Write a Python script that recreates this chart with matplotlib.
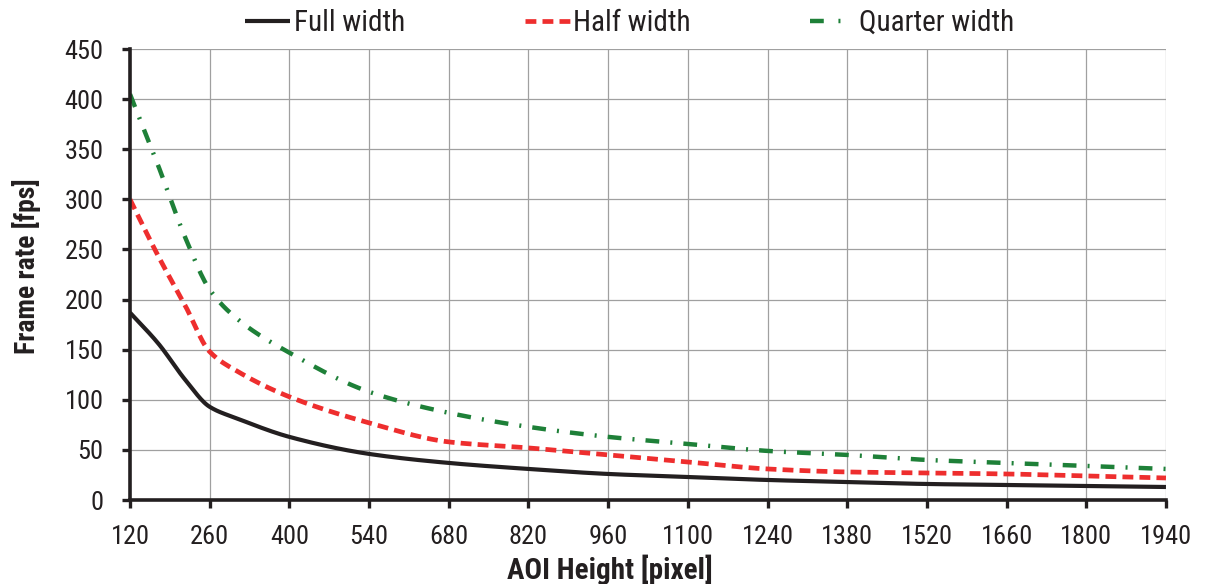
import numpy as np
import matplotlib
matplotlib.use("Agg")
import matplotlib.pyplot as plt
from matplotlib import font_manager

# AOI heights (pixel) and frame rates (fps) for the three AOI widths
aoi_height = [120, 170, 217, 260, 310, 400, 540, 680, 820, 960, 1100, 1240, 1380, 1520, 1660, 1800, 1940]
fps_full = [187, 156, 120, 93, 81, 63, 46, 37, 31, 26, 23, 20, 18, 16, 15, 14, 13]
fps_half = [300, 243, 194, 148, 128, 103, 77, 58, 52, 45, 38, 31, 28, 27, 26, 24, 22]
fps_quarter = [405, 333, 262, 210, 180, 147, 108, 87, 73, 63, 56, 49, 45, 40, 37, 34, 31]

x_ticks = [120, 260, 400, 540, 680, 820, 960, 1100, 1240, 1380, 1520, 1660, 1800, 1940]
y_ticks = [0, 50, 100, 150, 200, 250, 300, 350, 400, 450]

installed = {f.name for f in font_manager.fontManager.ttflist}
candidates = ["Roboto Condensed", "Open Sans Condensed", "Liberation Sans Narrow", "Lato"]
family = next((c for c in candidates if c in installed), "DejaVu Sans")
plt.rcParams["font.family"] = [family, "DejaVu Sans"]

INK = "#231f20"


def smooth(x, y, n=600):
    # monotone cubic interpolation to draw a smoothed line
    x = np.asarray(x, float)
    y = np.asarray(y, float)
    h = np.diff(x)
    d = np.diff(y) / h
    m = np.zeros_like(y)
    for i in range(1, len(x) - 1):
        if d[i - 1] * d[i] > 0:
            w1 = 2 * h[i] + h[i - 1]
            w2 = h[i] + 2 * h[i - 1]
            m[i] = (w1 + w2) / (w1 / d[i - 1] + w2 / d[i])
    m[0] = d[0]
    m[-1] = d[-1]
    xs = np.linspace(x[0], x[-1], n)
    idx = np.clip(np.searchsorted(x, xs) - 1, 0, len(x) - 2)
    t = (xs - x[idx]) / h[idx]
    h00 = 2 * t**3 - 3 * t**2 + 1
    h10 = t**3 - 2 * t**2 + t
    h01 = -2 * t**3 + 3 * t**2
    h11 = t**3 - t**2
    ys = h00 * y[idx] + h10 * h[idx] * m[idx] + h01 * y[idx + 1] + h11 * h[idx] * m[idx + 1]
    return xs, ys


fig = plt.figure(figsize=(12.07, 5.84), dpi=100)
ax = fig.add_axes([0.1077, 0.1438, 0.8583, 0.7722])

xs, ys = smooth(aoi_height, fps_full)
ax.plot(xs, ys, color=INK, lw=3, label="Full width", solid_capstyle="butt")
xs, ys = smooth(aoi_height, fps_half)
ax.plot(xs, ys, color="#ee2e2e", lw=3.4, label="Half width", dashes=(2.3, 1.3))
xs, ys = smooth(aoi_height, fps_quarter)
ax.plot(xs, ys, color="#1e8038", lw=3.2, label="Quarter width", dashes=(3.1, 2.5, 0.45, 2.5))

ax.set_xlim(120, 1940)
ax.set_ylim(0, 450)
ax.set_xticks(x_ticks)
ax.set_yticks(y_ticks)
ax.grid(True, color="#a0a0a0", lw=0.9)
ax.set_axisbelow(True)
for s in ("top", "right"):
    ax.spines[s].set_visible(False)
for s in ("left", "bottom"):
    ax.spines[s].set_linewidth(2.6)
    ax.spines[s].set_color(INK)
ax.tick_params(axis="both", direction="out", length=6, width=2.4, color=INK,
               labelsize=19, labelcolor=INK)
ax.tick_params(axis="x", pad=12)
ax.tick_params(axis="y", pad=13)

ax.set_xlabel("AOI Height [pixel]", fontsize=21, fontweight="bold", color=INK)
ax.xaxis.set_label_coords(609.5 / 1207, 1 - 555 / 584, transform=fig.transFigure)
ax.set_ylabel("Frame rate [fps]", fontsize=20, fontweight="bold", color=INK)
ax.yaxis.set_label_coords(41 / 1207, 1 - 266 / 584, transform=fig.transFigure)

leg = fig.legend(*ax.get_legend_handles_labels(), loc="center left",
                 bbox_to_anchor=(245 / 1207, 1 - 23 / 584), bbox_transform=fig.transFigure,
                 ncol=3, frameon=False, fontsize=21, handlelength=1.55, handletextpad=0.12,
                 columnspacing=4.1, borderpad=0, borderaxespad=0)
for t in leg.get_texts():
    t.set_color(INK)
# the dash-dot key shows a single dash followed by a dot
leg.get_lines()[2].set_dashes((3.1, 3.3, 0.45, 12))

fig.savefig("out.png", dpi=100, facecolor="white")
